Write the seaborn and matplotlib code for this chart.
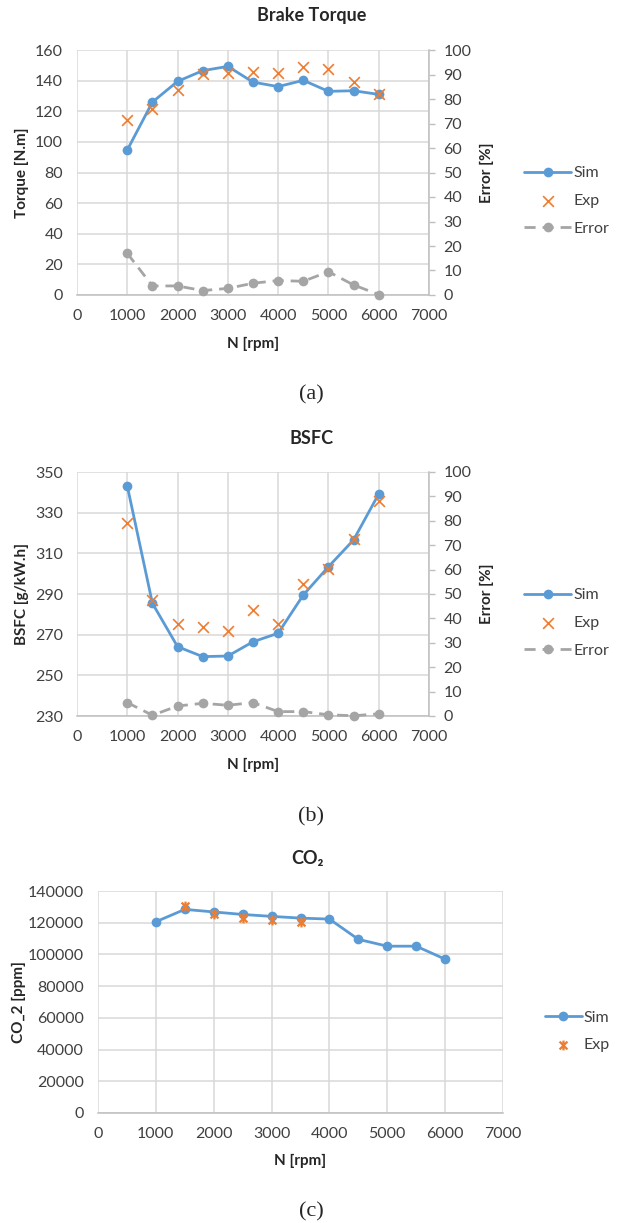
import matplotlib
matplotlib.use("Agg")
import matplotlib.pyplot as plt
from matplotlib.path import Path
import pandas as pd
import seaborn as sns

# ------------------------------------------------------------
# data
# ------------------------------------------------------------
rpm = [1000, 1500, 2000, 2500, 3000, 3500, 4000, 4500, 5000, 5500, 6000]

torque_sim = [94.7, 126.0, 139.5, 146.5, 149.3, 139.0, 136.1, 140.2, 133.0, 133.4, 131.0]
torque_exp = [114.3, 121.3, 133.9, 144.3, 145.2, 145.8, 145.2, 148.7, 147.4, 139.3, 131.0]
torque_err = [17.0, 3.7, 3.7, 1.8, 2.7, 4.8, 5.9, 5.6, 9.5, 4.1, 0.2]

bsfc_sim = [343.1, 285.4, 264.1, 259.2, 259.5, 266.5, 270.7, 289.5, 303.4, 316.6, 339.2]
bsfc_exp = [324.8, 287.0, 275.2, 273.9, 272.0, 282.1, 275.2, 294.8, 302.1, 316.9, 335.9]
bsfc_err = [5.5, 0.3, 4.1, 5.2, 4.4, 5.5, 1.8, 1.8, 0.5, 0.1, 0.9]

co2_sim = [120600, 128400, 126800, 125200, 124000, 122900, 122300, 109500, 105200, 105200, 97000]
co2_exp_rpm = [1500, 2000, 2500, 3000, 3500]
co2_exp = [130500, 125600, 123000, 121700, 120600]

df_torque = pd.DataFrame({"rpm": rpm, "sim": torque_sim, "exp": torque_exp, "err": torque_err})
df_bsfc = pd.DataFrame({"rpm": rpm, "sim": bsfc_sim, "exp": bsfc_exp, "err": bsfc_err})
df_co2 = pd.DataFrame({"rpm": rpm, "sim": co2_sim})
df_co2_exp = pd.DataFrame({"rpm": co2_exp_rpm, "exp": co2_exp})

# ------------------------------------------------------------
# style
# ------------------------------------------------------------
sns.set_theme(style="whitegrid")
plt.rcParams['font.family'] = ['Lato', 'DejaVu Sans']

BLUE = "#5B9BD5"
ORANGE = "#ED7D31"
GREY = "#A5A5A5"
GRID = "#D9D9D9"
AXIS = "#BFBFBF"
TXT = "#404040"
DARK = "#262626"

TICK_FS = 11.5
LAB_FS = 11
TITLE_FS = 13
TAG_FS = 16

W, H = 623, 1223
fig = plt.figure(figsize=(W / 100, H / 100), dpi=100)
fig.patch.set_facecolor("white")


def px_axes(left, top, right, bottom):
    return fig.add_axes([left / W, 1 - bottom / H, (right - left) / W, (bottom - top) / H])


def style_main(ax, ymin, ymax, ystep):
    ax.set_facecolor("white")
    ax.set_xlim(0, 7000)
    ax.set_xticks(range(0, 7001, 1000))
    ax.set_ylim(ymin, ymax)
    ax.set_yticks(range(ymin, ymax + 1, ystep))
    ax.grid(True, color=GRID, linewidth=1.1)
    ax.set_axisbelow(True)
    for s in ["top", "right", "left"]:
        ax.spines[s].set_visible(False)
    ax.spines["bottom"].set_color(AXIS)
    ax.spines["bottom"].set_linewidth(1.1)
    ax.tick_params(axis="both", length=0, labelsize=TICK_FS, labelcolor=TXT)
    ax.tick_params(axis="x", pad=10)
    ax.tick_params(axis="y", pad=10)


def style_twin(ax2):
    ax2.set_ylim(0, 100)
    ax2.set_yticks(range(0, 101, 10))
    ax2.grid(False)
    for s in ["top", "left", "bottom"]:
        ax2.spines[s].set_visible(False)
    ax2.spines["right"].set_visible(True)
    ax2.spines["right"].set_color(AXIS)
    ax2.spines["right"].set_linewidth(1.1)
    ax2.tick_params(axis="y", length=4.5, width=1, color=AXIS, direction="out",
                    labelsize=TICK_FS, labelcolor=TXT, pad=6)


def draw_block(ax, df, ylabel, ymin, ymax, ystep, title, tag, title_y, tag_y, leg_y):
    style_main(ax, ymin, ymax, ystep)
    sns.lineplot(data=df, x="rpm", y="sim", ax=ax, color=BLUE, linewidth=2,
                 marker="o", markersize=7, markeredgewidth=0, label="Sim", clip_on=False)
    sns.scatterplot(data=df, x="rpm", y="exp", ax=ax, color=ORANGE, marker="x",
                    s=60, linewidth=1.2, label="Exp", zorder=5, clip_on=False)
    ax2 = ax.twinx()
    style_twin(ax2)
    sns.lineplot(data=df, x="rpm", y="err", ax=ax2, color=GREY, linewidth=2,
                 linestyle=(0, (4, 2.5)), marker="o", markersize=7, markeredgewidth=0,
                 label="Error", clip_on=False)
    for a in (ax, ax2):
        if a.get_legend() is not None:
            a.get_legend().remove()

    ax.set_xlabel("N [rpm]", fontsize=LAB_FS, fontweight="bold", color=DARK)
    ax.xaxis.set_label_coords(0.5, -0.17)
    ax.set_ylabel(ylabel, fontsize=LAB_FS, fontweight="bold", color=DARK)
    ax.yaxis.set_label_coords(-0.135, 0.5)
    ax2.set_ylabel("Error [%]", fontsize=LAB_FS, fontweight="bold", color=DARK)
    ax2.yaxis.set_label_coords(1.145, 0.5)

    fig.text(312 / W, 1 - title_y / H, title, ha="center", va="center",
             fontsize=TITLE_FS, fontweight="bold", color=DARK)
    fig.text(311 / W, 1 - tag_y / H, tag, ha="center", va="center",
             fontsize=TAG_FS, family="Liberation Serif", color=DARK)

    h1, l1 = ax.get_legend_handles_labels()
    h2, l2 = ax2.get_legend_handles_labels()
    fig.legend(h1 + h2, l1 + l2, loc="center left", bbox_to_anchor=(524 / W, 1 - leg_y / H),
               frameon=False, fontsize=TICK_FS, handlelength=2.95, handletextpad=0.15,
               labelspacing=0.85, borderpad=0, borderaxespad=0, labelcolor=TXT)


# ---------------- (a) brake torque ----------------
ax_a = px_axes(77, 50, 429, 295)
draw_block(ax_a, df_torque, "Torque [N.m]", 0, 160, 20, "Brake Torque", "(a)", 16, 395, 201)

# ---------------- (b) BSFC ----------------
ax_b = px_axes(77, 472, 429, 716)
draw_block(ax_b, df_bsfc, "BSFC [g/kW.h]", 230, 350, 20, "BSFC", "(b)", 438, 817, 623)

# ---------------- (c) CO2 ----------------
ax_c = px_axes(98, 891, 503, 1113)
style_main(ax_c, 0, 140000, 20000)
sns.lineplot(data=df_co2, x="rpm", y="sim", ax=ax_c, color=BLUE, linewidth=2,
             marker="o", markersize=7, markeredgewidth=0, label="Sim", clip_on=False)
star = Path([(-1, -1), (1, 1), (-1, 1), (1, -1), (0, -1.25), (0, 1.25)],
            [Path.MOVETO, Path.LINETO, Path.MOVETO, Path.LINETO, Path.MOVETO, Path.LINETO])
sns.scatterplot(data=df_co2_exp, x="rpm", y="exp", ax=ax_c, color=ORANGE, edgecolor=ORANGE,
                marker=star, s=50, linewidth=1.6, label="Exp", zorder=5, clip_on=False)
if ax_c.get_legend() is not None:
    ax_c.get_legend().remove()
ax_c.set_xlabel("N [rpm]", fontsize=LAB_FS, fontweight="bold", color=DARK)
ax_c.xaxis.set_label_coords(0.5, -0.185)
ax_c.set_ylabel("CO_2 [ppm]", fontsize=LAB_FS, fontweight="bold", color=DARK)
ax_c.yaxis.set_label_coords(-0.178, 0.5)
fig.text(308 / W, 1 - 858 / H, "CO\u2082", ha="center", va="center",
         fontsize=TITLE_FS, fontweight="bold", color=DARK, family=["Lato", "DejaVu Sans"])
fig.text(311 / W, 1 - 1212 / H, "(c)", ha="center", va="center",
         fontsize=TAG_FS, family="Liberation Serif", color=DARK)
h, l = ax_c.get_legend_handles_labels()
fig.legend(h, l, loc="center left", bbox_to_anchor=(545 / W, 1 - 1031.5 / H),
           frameon=False, fontsize=TICK_FS, handlelength=2.3, handletextpad=0.1,
           labelspacing=0.85, borderpad=0, borderaxespad=0, labelcolor=TXT)

fig.savefig("out.png", dpi=100, facecolor="white")
